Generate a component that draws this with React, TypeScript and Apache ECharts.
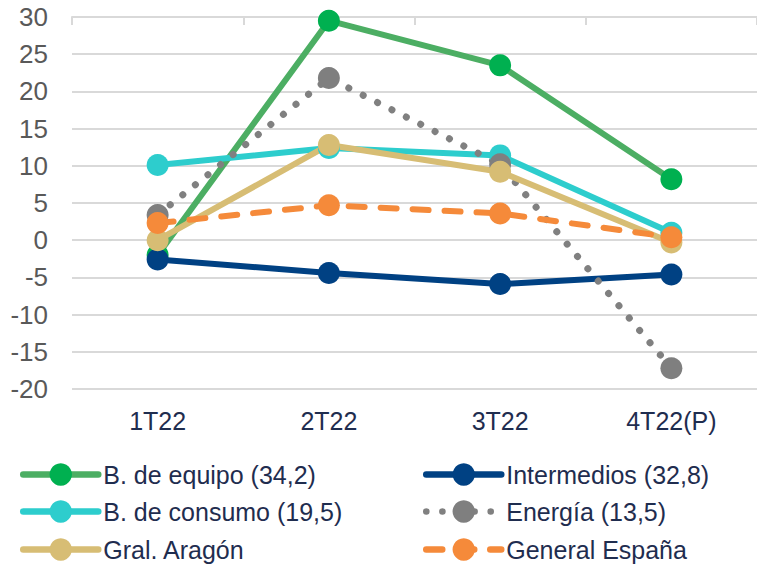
import React, { useEffect, useRef } from "react";
import * as echarts from "echarts";

const categories = ["1T22", "2T22", "3T22", "4T22(P)"];
const yTicks = { min: -20, max: 30, interval: 5 };

const equipo = [-2.0, 29.5, 23.5, 8.2];
const intermedios = [-2.6, -4.4, -5.9, -4.6];
const consumo = [10.1, 12.4, 11.4, 1.0];
const energia = [3.4, 21.8, 10.2, -17.2];
const aragon = [0.0, 12.8, 9.2, -0.3];
const espana = [2.3, 4.7, 3.6, 0.4];

const names = {
  equipo: "B. de equipo (34,2)",
  intermedios: "Intermedios (32,8)",
  consumo: "B. de consumo (19,5)",
  energia: "Energía (13,5)",
  aragon: "Gral. Aragón",
  espana: "General España",
};

const FONT = "'Liberation Sans', Arial, sans-serif";

export default function App() {
  const ref = useRef<HTMLDivElement>(null);
  useEffect(() => {
    if (!ref.current) return;
    const chart = echarts.init(ref.current, null, { renderer: "svg" });
    const mk = (
      name: string,
      data: number[],
      lineColor: string,
      markColor: string,
      lineType: any = "solid",
      width = 6
    ) => ({
      name,
      type: "line",
      data,
      symbol: "circle",
      symbolSize: 22,
      itemStyle: { color: markColor },
      lineStyle: { color: lineColor, width, type: lineType, cap: "round", join: "round" },
      emphasis: { disabled: true },
    });
    const leg = (name: string, left: number, top: number) => ({
      left,
      top,
      padding: 0,
      itemWidth: 75,
      itemHeight: 28,
      itemGap: 0,
      selectedMode: false,
      lineStyle: { width: 6.5 },
      textStyle: { fontFamily: FONT, fontSize: 25, color: "#1F2D4F" },
      data: [name],
    });
    chart.setOption({
      animation: false,
      grid: { left: 72, top: 17, width: 688, height: 372 },
      xAxis: [
        {
          type: "category",
          data: categories,
          position: "bottom",
          axisLine: { show: false },
          axisTick: { show: false },
          axisLabel: { fontFamily: FONT, fontSize: 25, color: "#1F2D4F", margin: 19 },
        },
        {
          type: "category",
          data: categories,
          position: "top",
          axisLine: { show: true, lineStyle: { color: "#D9D9D9", width: 2 } },
          axisTick: { show: true, inside: true, length: 8, lineStyle: { color: "#D9D9D9", width: 2 } },
          axisLabel: { show: false },
        },
      ],
      yAxis: {
        type: "value",
        min: yTicks.min,
        max: yTicks.max,
        interval: yTicks.interval,
        axisLine: { show: false },
        axisTick: { show: false },
        axisLabel: { fontFamily: FONT, fontSize: 26, color: "#595959", margin: 24 },
        splitLine: { lineStyle: { color: "#D9D9D9", width: 2 } },
      },
      legend: [
        leg(names.equipo, 20, 462),
        leg(names.consumo, 20, 499),
        leg(names.aragon, 20, 537),
        leg(names.intermedios, 423, 462),
        leg(names.energia, 423, 499),
        leg(names.espana, 423, 537),
      ],
      series: [
        mk(names.equipo, equipo, "#4CAE63", "#00B050"),
        mk(names.intermedios, intermedios, "#004183", "#004183"),
        mk(names.consumo, consumo, "#2DCDCD", "#2DCDCD"),
        mk(names.energia, energia, "#808080", "#7F7F7F", [0.1, 16], 7),
        mk(names.aragon, aragon, "#D7BD74", "#D7BD74"),
        mk(names.espana, espana, "#F58A3A", "#F58A3A", [16, 16]),
      ],
    });
    return () => chart.dispose();
  }, []);
  return <div ref={ref} style={{ width: 757, height: 564, position: "absolute", left: 0, top: 0 }} />;
}
